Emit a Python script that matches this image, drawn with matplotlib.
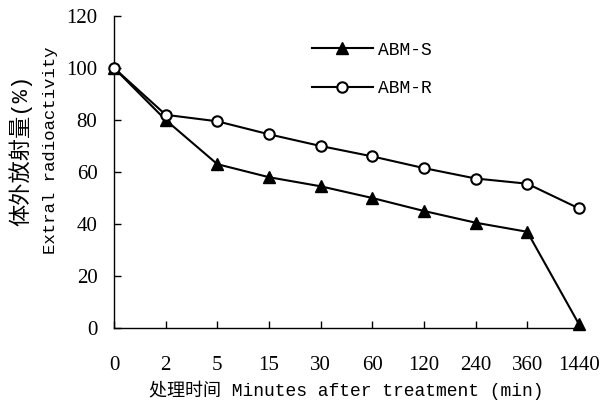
import matplotlib
matplotlib.use("Agg")
import matplotlib.pyplot as plt

minutes = ["0", "2", "5", "15", "30", "60", "120", "240", "360", "1440"]
abm_s = [100, 80, 63, 58, 54.5, 50, 45, 40.5, 37, 1.5]
abm_r = [100, 82, 79.5, 74.5, 70, 66, 61.5, 57.5, 55.5, 46]

label_font = ["Liberation Mono", "Noto Sans CJK SC"]
tick_font = "Liberation Serif"

fig = plt.figure(figsize=(6.1, 4.11), dpi=100)
ax = fig.add_axes([0.187, 0.202, 0.762, 0.759])

x = list(range(len(minutes)))
ax.plot(x, abm_s, color="black", lw=1.5, marker="^", ms=8,
        mfc="black", mec="black", label="ABM-S", clip_on=False, zorder=3)
ax.plot(x, abm_r, color="black", lw=1.5, marker="o", ms=7.5,
        mfc="white", mec="black", mew=1.5, label="ABM-R", clip_on=False, zorder=3)

ax.set_xlim(0, 9)
ax.set_ylim(0, 120)
ax.set_yticks(range(0, 121, 20))
ax.set_xticks(x)
ax.set_xticklabels(minutes)
for s in ["top", "right"]:
    ax.spines[s].set_visible(False)
for s in ["left", "bottom"]:
    ax.spines[s].set_linewidth(1.0)
ax.tick_params(direction="in", length=5, width=1.0, labelsize=15, pad=12)
ax.tick_params(axis="x", pad=20)
for lbl in ax.get_xticklabels() + ax.get_yticklabels():
    lbl.set_fontfamily(tick_font)

ax.set_xlabel("处理时间 Minutes after treatment (min)", family=label_font,
              fontsize=13, labelpad=4)
fig.text(0.033, 0.635, "体外放射量(%)", rotation=90, family=label_font,
         fontsize=16, ha="center", va="center")
fig.text(0.082, 0.635, "Extral radioactivity", rotation=90, family=label_font,
         fontsize=12.5, ha="center", va="center")

leg = ax.legend(loc="upper left", bbox_to_anchor=(0.39, 0.97), frameon=False,
                handlelength=3.4, handletextpad=0.3, labelspacing=1.2,
                prop={"family": label_font, "size": 13})

fig.savefig("out.png", dpi=100)
